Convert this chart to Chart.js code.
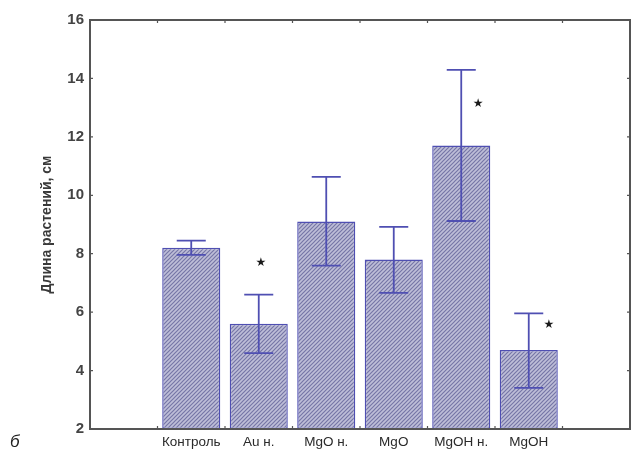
<!DOCTYPE html>
<html>
<head>
<meta charset="utf-8">
<script src="https://cdn.jsdelivr.net/npm/chart.js@4.4.1/dist/chart.umd.min.js"></script>
<style>
  html, body { margin: 0; padding: 0; background: #fff; }
  #wrap { width: 632px; height: 452px; position: relative; }
</style>
</head>
<body>
<div id="wrap"><canvas id="lengthChart"></canvas></div>
<script>
const categories = ['', 'Контроль', 'Au н.', 'MgO н.', 'MgO', 'MgOH н.', 'MgOH', ''];
const means = [null, 8.2, 5.6, 9.1, 7.8, 11.7, 4.7, null];
const errHigh = [null, 8.45, 6.6, 10.63, 8.92, 14.29, 5.96, null];
const errLow = [null, 7.96, 4.6, 7.59, 6.66, 9.12, 3.41, null];
const starValues = [null, null, 7.7, null, null, 13.15, 5.6, null];
const starShift = [0, 0, 0.03, 0, 0, 0.25, 0.3, 0];
const yTicks = [2, 4, 6, 8, 10, 12, 14, 16];

const axisColor = '#555555';
const barLine = '#4f4fb2';

function makeHatch() {
    const c = document.createElement('canvas');
    c.width = 4;
    c.height = 4;
    const g = c.getContext('2d');
    g.fillStyle = '#bebed8';
    g.fillRect(0, 0, 4, 4);
    g.strokeStyle = '#7676a6';
    g.lineWidth = 1.2;
    g.beginPath();
    g.moveTo(-1, 5); g.lineTo(5, -1);
    g.moveTo(-1, 1); g.lineTo(1, -1);
    g.moveTo(3, 5); g.lineTo(5, 3);
    g.stroke();
    return g.createPattern(c, 'repeat');
}

// рамка, засечки, планки погрешностей, звёздочки
const extrasPlugin = {
    id: 'extras',
    afterDatasetsDraw(chart) {
        const ctx = chart.ctx;
        const area = chart.chartArea;
        const xs = chart.scales.x;
        const ys = chart.scales.y;
        const meta = chart.getDatasetMeta(0);
        const slot = xs.getPixelForValue(1) - xs.getPixelForValue(0);

        ctx.save();
        // error bars
        ctx.strokeStyle = barLine;
        ctx.lineWidth = 1.8;
        meta.data.forEach((bar, i) => {
            if (errHigh[i] == null) return;
            const x = bar.x;
            const yh = ys.getPixelForValue(errHigh[i]);
            const yl = ys.getPixelForValue(errLow[i]);
            const cap = slot * 0.215;
            ctx.beginPath();
            ctx.moveTo(x, yh); ctx.lineTo(x, yl);
            ctx.moveTo(x - cap, yh); ctx.lineTo(x + cap, yh);
            ctx.moveTo(x - cap, yl); ctx.lineTo(x + cap, yl);
            ctx.stroke();
        });

        // stars
        ctx.fillStyle = '#1a1a1a';
        ctx.font = '12px "DejaVu Sans"';
        ctx.textAlign = 'center';
        ctx.textBaseline = 'alphabetic';
        starValues.forEach((v, i) => {
            if (v == null) return;
            const m = ctx.measureText('★');
            const x = xs.getPixelForValue(i) + starShift[i] * slot;
            const y = ys.getPixelForValue(v);
            const off = (m.actualBoundingBoxAscent - m.actualBoundingBoxDescent) / 2;
            ctx.fillText('★', x, y + off);
        });

        // frame
        ctx.strokeStyle = axisColor;
        ctx.lineWidth = 2;
        ctx.strokeRect(area.left, area.top, area.right - area.left, area.bottom - area.top);

        // inward ticks
        ctx.lineWidth = 1.2;
        ctx.beginPath();
        yTicks.forEach(t => {
            const y = ys.getPixelForValue(t);
            ctx.moveTo(area.left, y); ctx.lineTo(area.left + 3, y);
            ctx.moveTo(area.right, y); ctx.lineTo(area.right - 3, y);
        });
        for (let i = 0; i <= categories.length; i++) {
            const x = xs.getPixelForValue(0) + (i - 0.5) * slot;
            ctx.moveTo(x, area.top); ctx.lineTo(x, area.top + 3);
            ctx.moveTo(x, area.bottom); ctx.lineTo(x, area.bottom - 3);
        }
        ctx.stroke();

        // panel letter
        ctx.fillStyle = '#222';
        ctx.font = 'italic 17px "Liberation Sans"';
        ctx.textAlign = 'left';
        ctx.fillText('б', 10, 447);
        ctx.restore();
    }
};

const canvas = document.getElementById('lengthChart');
const ctx = canvas.getContext('2d');

new Chart(ctx, {
    type: 'bar',
    data: {
        labels: categories,
        datasets: [{
            data: means,
            base: 2,
            backgroundColor: makeHatch(),
            borderColor: barLine,
            borderWidth: 1.4,
            borderSkipped: false,
            barPercentage: 0.86,
            categoryPercentage: 1
        }]
    },
    options: {
        responsive: true,
        maintainAspectRatio: false,
        animation: false,
        layout: {
            padding: { top: 20, right: 2, left: 0, bottom: 0 }
        },
        plugins: {
            legend: { display: false },
            tooltip: { enabled: false }
        },
        scales: {
            x: {
                grid: { display: false, drawTicks: false },
                border: { display: false },
                ticks: {
                    color: '#2a2a2a',
                    padding: 5,
                    maxRotation: 0,
                    autoSkip: false,
                    font: { family: 'Liberation Sans', size: 13.5 }
                },
                afterFit(scale) { scale.height = 23; }
            },
            y: {
                min: 2,
                max: 16,
                grid: { display: false, drawTicks: false },
                border: { display: false },
                afterBuildTicks(scale) {
                    scale.ticks = yTicks.map(v => ({ value: v }));
                },
                ticks: {
                    color: '#444',
                    padding: 6,
                    font: { family: 'Liberation Sans', size: 15, weight: 'bold' }
                },
                title: {
                    display: true,
                    text: 'Длина растений, см',
                    color: '#3a3a3a',
                    padding: { top: 39, bottom: 0 },
                    font: { family: 'Liberation Sans', size: 14, weight: 'bold' }
                },
                afterFit(scale) { scale.width = 90; }
            }
        }
    },
    plugins: [extrasPlugin]
});
</script>
</body>
</html>
